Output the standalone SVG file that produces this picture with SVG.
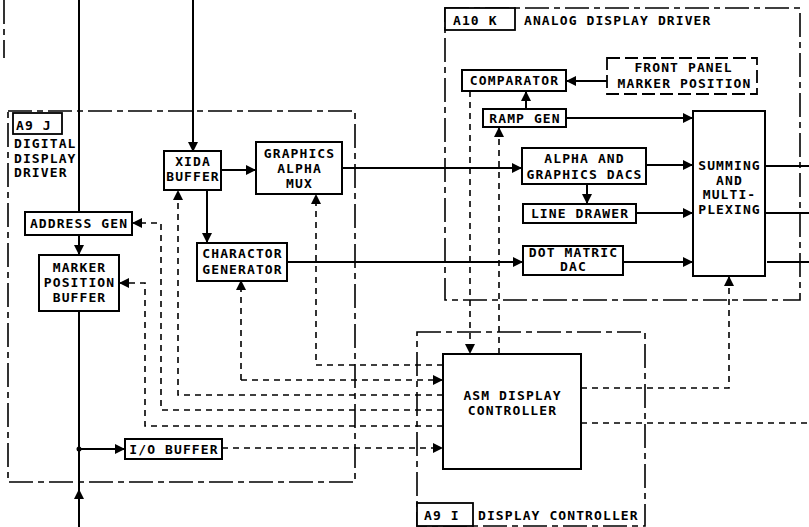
<svg xmlns="http://www.w3.org/2000/svg" width="809" height="527" viewBox="0 0 809 527">
<style>
.box{fill:#fff;stroke:#000;stroke-width:2}
.lbl{fill:#fff;stroke:#000;stroke-width:1.8}
.reg{fill:none;stroke:#000;stroke-width:1.6;stroke-dasharray:24 5 6 5}
.fp{fill:#fff;stroke:#000;stroke-width:1.8;stroke-dasharray:13 5}
.sig{fill:none;stroke:#000;stroke-width:2}
.dsh{fill:none;stroke:#000;stroke-width:1.6;stroke-dasharray:6 5}
text{font-family:"DejaVu Sans Mono","Liberation Mono",monospace;font-weight:bold;font-size:13px;letter-spacing:1.1px;fill:#000}
.c{text-anchor:middle}
</style>
<defs>
<marker id="ah" markerUnits="userSpaceOnUse" markerWidth="10" markerHeight="10" refX="10" refY="5" orient="auto">
<path d="M0,0 L10,5 L0,10 z" fill="#000"/>
</marker>
</defs>
<rect width="809" height="527" fill="#fff"/>

<g id="regions">
<path class="reg" d="M4,0 L4,58"/>
<g id="regA9J">
<rect class="reg" x="8" y="111" width="347" height="371"/>
<rect class="lbl" x="13" y="113" width="49" height="21"/>
<text x="16" y="130">A9 J</text>
<text x="14" y="148">DIGITAL</text>
<text x="14" y="163">DISPLAY</text>
<text x="14" y="177">DRIVER</text>
</g>
<g id="regA10K">
<rect class="reg" x="445" y="8" width="355" height="292"/>
<rect class="lbl" x="445" y="8" width="70" height="22"/>
<text x="453" y="25">A10 K</text>
<text x="524" y="25">ANALOG DISPLAY DRIVER</text>
</g>
<g id="regA9I">
<rect class="reg" x="417" y="332" width="228" height="194"/>
<rect class="lbl" x="417" y="503" width="56" height="23"/>
<text x="424" y="520">A9 I</text>
<text x="478" y="520">DISPLAY CONTROLLER</text>
</g>
</g>

<g id="connectors">
<path class="sig" d="M79,0 L79,212"/>
<path class="sig" d="M79,235 L79,255" marker-end="url(#ah)"/>
<path class="sig" d="M79,527 L79,489" marker-end="url(#ah)"/>
<path class="sig" d="M79,489 L79,311"/>
<circle cx="79" cy="449" r="2.5" fill="#000"/>
<path class="sig" d="M79,449 L125,449" marker-end="url(#ah)"/>
<path class="sig" d="M193,0 L193,152" marker-end="url(#ah)"/>
<path class="sig" d="M221,170 L256,170" marker-end="url(#ah)"/>
<path class="sig" d="M207,190 L207,243" marker-end="url(#ah)"/>
<path class="sig" d="M342,168 L522,168" marker-end="url(#ah)"/>
<path class="sig" d="M287,262 L523,262" marker-end="url(#ah)"/>
<path class="sig" d="M607,81 L566,81" marker-end="url(#ah)"/>
<path class="sig" d="M526,109 L526,91" marker-end="url(#ah)"/>
<path class="sig" d="M566,118 L693,118" marker-end="url(#ah)"/>
<path class="sig" d="M646,165 L693,165" marker-end="url(#ah)"/>
<path class="sig" d="M587,184 L587,204" marker-end="url(#ah)"/>
<path class="sig" d="M636,213 L693,213" marker-end="url(#ah)"/>
<path class="sig" d="M623,262 L693,262" marker-end="url(#ah)"/>
<path class="sig" d="M765,166 L809,166"/>
<path class="sig" d="M765,213 L809,213"/>
<path class="sig" d="M767,262 L809,262"/>
<path class="dsh" d="M443,410 L161,410 L161,223 L132,223" marker-end="url(#ah)"/>
<path class="dsh" d="M443,426 L145,426 L145,283 L119,283" marker-end="url(#ah)"/>
<path class="dsh" d="M443,395 L178,395 L178,190" marker-end="url(#ah)"/>
<path class="dsh" d="M241,380 L241,280" marker-end="url(#ah)"/>
<path class="dsh" d="M241,380 L443,380" marker-end="url(#ah)"/>
<path class="dsh" d="M443,365 L316,365 L316,194" marker-end="url(#ah)"/>
<path class="dsh" d="M222,448 L443,448" marker-end="url(#ah)"/>
<path class="dsh" d="M470,91 L470,354" marker-end="url(#ah)"/>
<path class="dsh" d="M499,354 L499,127" marker-end="url(#ah)"/>
<path class="dsh" d="M581,388 L729,388 L729,276" marker-end="url(#ah)"/>
<path class="dsh" d="M581,423 L809,423"/>
</g>

<g id="addressGen">
<rect class="box" x="25" y="212" width="107" height="23"/>
<text class="c" x="79" y="228">ADDRESS GEN</text>
</g>
<g id="markerPosBuffer">
<rect class="box" x="39" y="255" width="80" height="56"/>
<text class="c" x="79.5" y="272">MARKER</text>
<text class="c" x="79.5" y="287">POSITION</text>
<text class="c" x="79.5" y="302">BUFFER</text>
</g>
<g id="xidaBuffer">
<rect class="box" x="164" y="151" width="57" height="39"/>
<text class="c" x="193" y="166">XIDA</text>
<text class="c" x="193" y="181">BUFFER</text>
</g>
<g id="graphicsAlphaMux">
<rect class="box" x="256" y="142" width="86" height="52"/>
<text class="c" x="299.5" y="158">GRAPHICS</text>
<text class="c" x="299.5" y="173">ALPHA</text>
<text class="c" x="299.5" y="188">MUX</text>
</g>
<g id="charGen">
<rect class="box" x="197" y="243" width="90" height="38"/>
<text class="c" x="242.5" y="258">CHARACTOR</text>
<text class="c" x="242.5" y="274">GENERATOR</text>
</g>
<g id="ioBuffer">
<rect class="box" x="125" y="439" width="97" height="20"/>
<text class="c" x="174" y="454">I/O BUFFER</text>
</g>
<g id="comparator">
<rect class="box" x="462" y="70" width="104" height="21"/>
<text class="c" x="514.5" y="85">COMPARATOR</text>
</g>
<g id="frontPanel">
<rect class="fp" x="607" y="58" width="150" height="36"/>
<text class="c" x="683.5" y="72">FRONT PANEL</text>
<text class="c" x="684.5" y="88">MARKER POSITION</text>
</g>
<g id="rampGen">
<rect class="box" x="483" y="109" width="83" height="18"/>
<text class="c" x="525" y="123">RAMP GEN</text>
</g>
<g id="alphaDacs">
<rect class="box" x="522" y="148" width="124" height="36"/>
<text class="c" x="584.5" y="163">ALPHA AND</text>
<text class="c" x="584.5" y="179">GRAPHICS DACS</text>
</g>
<g id="lineDrawer">
<rect class="box" x="523" y="204" width="113" height="19"/>
<text class="c" x="580" y="218">LINE DRAWER</text>
</g>
<g id="dotMatric">
<rect class="box" x="523" y="246" width="100" height="29"/>
<text class="c" x="573.5" y="257">DOT MATRIC</text>
<text class="c" x="573.5" y="271">DAC</text>
</g>
<g id="summing">
<rect class="box" x="693" y="111" width="72" height="165"/>
<text class="c" x="729.5" y="170">SUMMING</text>
<text class="c" x="729.5" y="185">AND</text>
<text class="c" x="729.5" y="199">MULTI-</text>
<text class="c" x="729.5" y="214">PLEXING</text>
</g>
<g id="asmController">
<rect class="box" x="443" y="354" width="138" height="115"/>
<text class="c" x="512.5" y="400">ASM DISPLAY</text>
<text class="c" x="512.5" y="415">CONTROLLER</text>
</g>
</svg>
